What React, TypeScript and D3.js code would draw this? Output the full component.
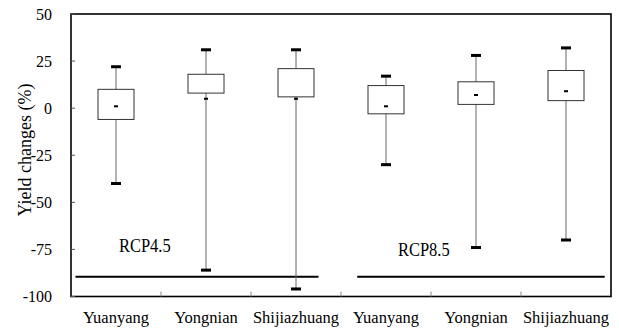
import React, { useEffect, useRef } from "react";
import * as d3 from "d3";

// site order along the x axis (RCP4.5 first three, RCP8.5 last three)
const sites = ["Yuanyang", "Yongnian", "Shijiazhuang", "Yuanyang", "Yongnian", "Shijiazhuang"];
const maxVals = [22, 31, 31, 17, 28, 32];
const q3Vals = [10, 18, 21, 12, 14, 20];
const meanVals = [1, 5, 5, 1, 7, 9];
const q1Vals = [-6, 8, 6, -3, 2, 4];
const minVals = [-40, -86, -96, -30, -74, -70];
const yTicks = [50, 25, 0, -25, -50, -75, -100];

// scenario labels + underline, in category units along x
const scenarios = ["RCP4.5", "RCP8.5"];
const scenarioFrom = [0.05, 3.18];
const scenarioTo = [2.75, 5.93];
const scenarioLabelAt = [0.82, 3.92];
const scenarioLine = -89.5;
const scenarioLabelY = [-76.5, -78.5];

export default function App() {
  const svgRef = useRef<SVGSVGElement>(null);

  useEffect(() => {
    const W = 619;
    const H = 333;
    const margin = { top: 14, right: 8, bottom: 36.5, left: 71 };
    const x0 = margin.left;
    const x1 = W - margin.right;
    const y0 = H - margin.bottom;
    const y1 = margin.top;

    const svg = d3.select(svgRef.current).attr("width", W).attr("height", H);
    svg.selectAll("*").remove();

    const idx = sites.map((_, i) => i);
    const x = d3.scaleBand<number>().domain(idx).range([x0, x1]);
    const xu = d3.scaleLinear().domain([0, sites.length]).range([x0, x1]);
    const y = d3.scaleLinear().domain([-100, 50]).range([y0, y1]);
    const cx = (i: number) => x(i)! + x.bandwidth() / 2;

    const font = "Liberation Serif, Times New Roman, serif";

    // frame
    svg.append("rect")
      .attr("x", x0).attr("y", y1)
      .attr("width", x1 - x0).attr("height", y0 - y1)
      .attr("fill", "none").attr("stroke", "#000").attr("stroke-width", 1.6);

    // y ticks (inside) + labels
    const yg = svg.append("g");
    yTicks.forEach((t) => {
      yg.append("line")
        .attr("x1", x0).attr("x2", x0 + 4)
        .attr("y1", y(t)).attr("y2", y(t))
        .attr("stroke", "#555").attr("stroke-width", 1);
      yg.append("text")
        .attr("x", 52).attr("y", y(t))
        .attr("dy", "0.35em")
        .attr("text-anchor", "end")
        .attr("font-family", font).attr("font-size", 16)
        .text(t);
    });

    // x boundary ticks (inside) + labels
    d3.range(1, sites.length).forEach((k) => {
      svg.append("line")
        .attr("x1", xu(k)).attr("x2", xu(k))
        .attr("y1", y0).attr("y2", y0 - 5)
        .attr("stroke", "#888").attr("stroke-width", 1);
    });
    sites.forEach((s, i) => {
      svg.append("text")
        .attr("x", cx(i)).attr("y", 322.5)
        .attr("text-anchor", "middle")
        .attr("font-family", font).attr("font-size", 16.5)
        .text(s);
    });

    // y title
    svg.append("text")
      .attr("transform", `translate(31,150) rotate(-90)`)
      .attr("text-anchor", "middle")
      .attr("font-family", font).attr("font-size", 18)
      .text("Yield changes (%)");

    // scenario lines + labels
    scenarios.forEach((s, k) => {
      svg.append("line")
        .attr("x1", xu(scenarioFrom[k])).attr("x2", xu(scenarioTo[k]))
        .attr("y1", y(scenarioLine)).attr("y2", y(scenarioLine))
        .attr("stroke", "#000").attr("stroke-width", 2);
      svg.append("text")
        .attr("transform", `translate(${xu(scenarioLabelAt[k])},${y(scenarioLabelY[k])}) scale(1,1.2)`)
        .attr("text-anchor", "middle")
        .attr("font-family", font).attr("font-size", 16.5)
        .text(s);
    });

    // boxes
    const boxW = 36;
    const capW = 10;
    idx.forEach((i) => {
      const g = svg.append("g");
      g.append("line")
        .attr("x1", cx(i)).attr("x2", cx(i))
        .attr("y1", y(maxVals[i])).attr("y2", y(minVals[i]))
        .attr("stroke", "#666").attr("stroke-width", 1);
      g.append("rect")
        .attr("x", cx(i) - boxW / 2).attr("y", y(q3Vals[i]))
        .attr("width", boxW).attr("height", y(q1Vals[i]) - y(q3Vals[i]))
        .attr("fill", "#fff").attr("stroke", "#333").attr("stroke-width", 1);
      [maxVals[i], minVals[i]].forEach((v) => {
        g.append("rect")
          .attr("x", cx(i) - capW / 2).attr("y", y(v) - 1.5)
          .attr("width", capW).attr("height", 3)
          .attr("fill", "#000");
      });
      g.append("rect")
        .attr("x", cx(i) - 2).attr("y", y(meanVals[i]) - 1)
        .attr("width", 4).attr("height", 2)
        .attr("fill", "#000");
    });
  }, []);

  return (
    <div style={{ position: "absolute", left: 0, top: 0, background: "#fff" }}>
      <svg ref={svgRef} style={{ display: "block" }}></svg>
    </div>
  );
}
